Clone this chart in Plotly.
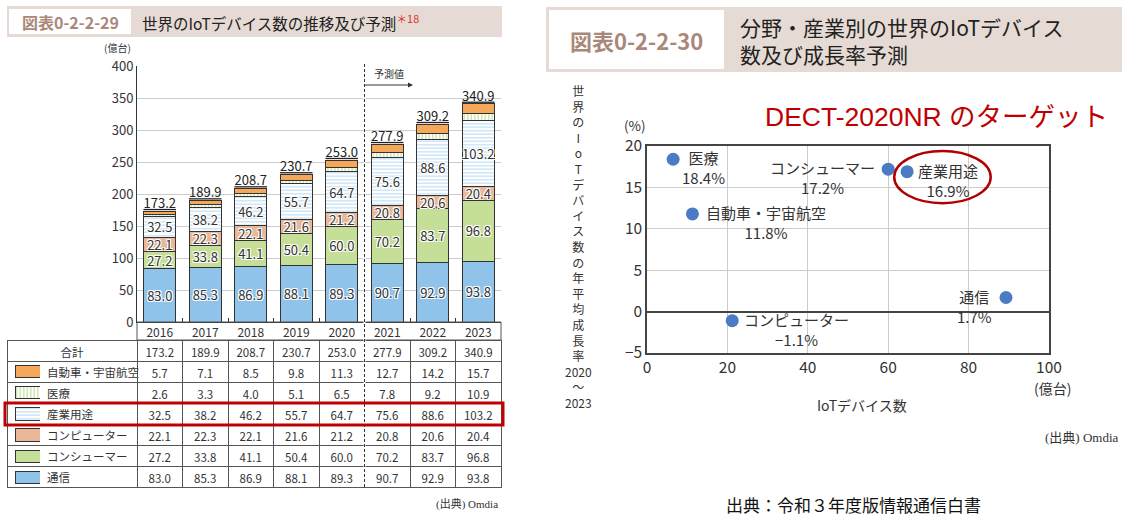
import plotly.graph_objects as go

# ---------------- data ----------------
years = ["2016", "2017", "2018", "2019", "2020", "2021", "2022", "2023"]
totals = [173.2, 189.9, 208.7, 230.7, 253.0, 277.9, 309.2, 340.9]
tsushin = [83.0, 85.3, 86.9, 88.1, 89.3, 90.7, 92.9, 93.8]
consumer = [27.2, 33.8, 41.1, 50.4, 60.0, 70.2, 83.7, 96.8]
computer = [22.1, 22.3, 22.1, 21.6, 21.2, 20.8, 20.6, 20.4]
sangyo = [32.5, 38.2, 46.2, 55.7, 64.7, 75.6, 88.6, 103.2]
iryo = [2.6, 3.3, 4.0, 5.1, 6.5, 7.8, 9.2, 10.9]
jidosha = [5.7, 7.1, 8.5, 9.8, 11.3, 12.7, 14.2, 15.7]

table_labels = ["自動車・宇宙航空", "医療", "産業用途", "コンピューター", "コンシューマー", "通信"]

seg_names = ["医療", "コンシューマー", "産業用途", "自動車・宇宙航空", "通信", "コンピューター"]
seg_devices = [6.5, 60.0, 64.7, 11.3, 89.3, 21.2]
seg_cagr = [18.4, 17.2, 16.9, 11.8, 1.7, -1.1]
seg_label_dx = [30, -66, 41, 74, -31, 64]

yaxis_title_chars = ["世", "界", "の", "I", "o", "T", "デ", "バ", "イ", "ス", "数", "の",
                     "年", "平", "均", "成", "長", "率", "2020", "〜", "2023"]

W, H = 1125, 516
def px(x):
    return x / W
def py(y):
    return 1 - y / H

FONT = "Noto Sans CJK JP"
DARK = "#333333"
C_TSU = "#8fc3ea"
C_CON = "#c6df98"
C_COM = "#e8b899"
C_SAN = "#9ccaee"
C_IRY = "#a9cf72"
C_JID = "#f6a85a"
HALO = "1px 1px 0 white, -1px -1px 0 white, 1px -1px 0 white, -1px 1px 0 white"
CLEAR = "rgba(255,255,255,0)"

STYLE = {
    "通信": dict(color=C_TSU),
    "コンシューマー": dict(color=C_CON),
    "コンピューター": dict(color=C_COM),
    "産業用途": dict(color="white", pattern=dict(shape="-", fgcolor=C_SAN, size=3.5, solidity=0.45)),
    "医療": dict(color="white", pattern=dict(shape="|", fgcolor=C_IRY, size=3.5, solidity=0.5)),
    "自動車・宇宙航空": dict(color=C_JID),
}

xs = list(range(len(years)))
fig = go.Figure()

def fmt(v):
    return [f"{a:.1f}" for a in v]

# table (transparent cells so the swatches show through)
cols = [[f"{v:.1f}" for v in (jidosha[i], iryo[i], sangyo[i], computer[i], consumer[i], tsushin[i])]
        for i in range(len(years))]
fig.add_trace(go.Table(
    domain=dict(x=[px(7), px(501)], y=[py(488), py(340)]),
    columnwidth=[130] + [45.5] * len(years),
    header=dict(values=["合計"] + fmt(totals), height=21, align="center",
                line=dict(color="#555", width=1), fill=dict(color=CLEAR),
                font=dict(size=11.5, color=DARK, family=FONT)),
    cells=dict(values=[[""] * len(table_labels)] + cols, height=21,
               align=["left"] + ["center"] * len(years),
               line=dict(color="#555", width=1), fill=dict(color=CLEAR),
               font=dict(size=11.5, color=DARK, family=FONT)),
))

bar_specs = [
    ("通信", tsushin, True),
    ("コンシューマー", consumer, True),
    ("コンピューター", computer, True),
    ("産業用途", sangyo, True),
    ("医療", iryo, False),
    ("自動車・宇宙航空", jidosha, False),
]
for name, vals, show_text in bar_specs:
    mk = dict(STYLE[name])
    mk["line"] = dict(color=DARK, width=1)
    fig.add_trace(go.Bar(
        x=xs, y=vals, name=name, marker=mk, width=0.7,
        text=fmt(vals) if show_text else None,
        textposition="inside" if show_text else "none",
        insidetextanchor="middle", textangle=0, constraintext="none",
        textfont=dict(size=13, color=DARK, family=FONT, shadow=HALO),
        showlegend=False, hoverinfo="skip", xaxis="x", yaxis="y",
    ))

fig.add_trace(go.Scatter(
    x=xs, y=totals, mode="text", text=fmt(totals), textposition="top center",
    textfont=dict(size=13, color="#222", family=FONT, lineposition="under"),
    showlegend=False, cliponaxis=False, hoverinfo="skip", xaxis="x", yaxis="y",
))

# legend swatches in the table
for lab in table_labels:
    mk = dict(STYLE[lab])
    mk["line"] = dict(color=DARK, width=1)
    fig.add_trace(go.Bar(
        orientation="h", y=[lab], x=[1], width=0.58, marker=mk,
        showlegend=False, hoverinfo="skip", xaxis="x3", yaxis="y3",
    ))

# scatter
fig.add_trace(go.Scatter(
    x=seg_devices, y=seg_cagr, mode="markers",
    marker=dict(size=13, color="#4a7bc4"),
    showlegend=False, hoverinfo="skip", xaxis="x2", yaxis="y2", cliponaxis=False,
))

annotations = []
for n, xv, yv, dx in zip(seg_names, seg_devices, seg_cagr, seg_label_dx):
    pct = f"{yv:.1f}%".replace("-", "−")
    annotations.append(dict(
        x=xv, y=yv, xref="x2", yref="y2", text=f"{n}<br>{pct}", showarrow=False,
        xanchor="center", yanchor="top", xshift=dx, yshift=14, align="center",
        font=dict(size=15, color=DARK, family=FONT),
    ))

# table row labels next to the swatches
for lab in table_labels:
    annotations.append(dict(
        x=1, y=lab, xref="x3", yref="y3", text=lab, showarrow=False, xanchor="left",
        xshift=5, yanchor="middle", font=dict(size=11.5, color=DARK, family=FONT),
    ))

def ann(x, y, text, size, color=DARK, xanchor="center", yanchor="middle", family=FONT, align="left"):
    annotations.append(dict(x=px(x), y=py(y), xref="paper", yref="paper", text=text,
                            showarrow=False, xanchor=xanchor, yanchor=yanchor, align=align,
                            font=dict(size=size, color=color, family=family)))

ann(70, 22, "<b>図表0-2-2-29</b>", 16, color="#a9887a")
ann(140, 22, "世界のIoTデバイス数の推移及び予測<span style='color:#e0302a'><sup>＊18</sup></span>", 15.5,
    color="#222", xanchor="left")
ann(117, 48, "(億台)", 10)
ann(372, 73, "予測値", 10, xanchor="left")
annotations.append(dict(x=px(413), y=py(85), xref="paper", yref="paper", ax=-50, ay=0,
                        text="", showarrow=True, arrowhead=2, arrowsize=1, arrowwidth=1,
                        arrowcolor=DARK))
ann(500, 504, "(出典) Omdia", 11, xanchor="right", family="Liberation Serif, " + FONT)

ann(636, 40, "<b>図表0-2-2-30</b>", 22, color="#a9887a")
ann(738, 40, "分野・産業別の世界のIoTデバイス<br>数及び成長率予測", 21, color="#222", xanchor="left")
ann(936, 117, "DECT-2020NR のターゲット", 26.5, color="#c00000", family="Liberation Sans, " + FONT)
ann(635, 125, "(%)", 13.5)
ann(1052, 388, "(億台)", 14)
ann(862, 405, "IoTデバイス数", 14)
ann(578, 247, "<br>".join(yaxis_title_chars), 12, align="center")
ann(1121, 437, "(出典) Omdia", 13, xanchor="right", family="Liberation Serif, " + FONT)
ann(853, 504, "出典：令和３年度版情報通信白書", 17, color="#111")

shapes = [
    dict(type="rect", xref="paper", yref="paper", x0=px(7), x1=px(502), y0=py(37), y1=py(6),
         fillcolor="#e6dbd4", line=dict(width=0), layer="below"),
    dict(type="rect", xref="paper", yref="paper", x0=px(9), x1=px(131), y0=py(34), y1=py(9),
         fillcolor="white", line=dict(width=0), layer="below"),
    dict(type="rect", xref="paper", yref="paper", x0=px(546), x1=px(1122), y0=py(72), y1=py(7),
         fillcolor="#e6dbd4", line=dict(width=0), layer="below"),
    dict(type="rect", xref="paper", yref="paper", x0=px(549), x1=px(724), y0=py(69), y1=py(10),
         fillcolor="white", line=dict(width=0), layer="below"),
    dict(type="rect", xref="paper", yref="paper", x0=px(137), x1=px(501), y0=py(340), y1=py(322),
         line=dict(color="#555", width=1)),
    dict(type="line", xref="x", yref="paper", x0=4.5, x1=4.5, y0=py(487), y1=py(64),
         line=dict(color="white", width=2), layer="above"),
    dict(type="line", xref="x", yref="paper", x0=4.5, x1=4.5, y0=py(487), y1=py(64),
         line=dict(color=DARK, width=1, dash="3px,2px"), layer="above"),
    dict(type="rect", xref="paper", yref="paper", x0=px(5), x1=px(503), y0=py(425), y1=py(403),
         line=dict(color="#c00000", width=3)),
    dict(type="circle", xref="x2", yref="y2", x0=61.5, x1=85.5, y0=13.1, y1=19.4,
         line=dict(color="#b00000", width=2.5)),
]

fig.update_layout(
    width=W, height=H, margin=dict(l=0, r=0, t=0, b=0, autoexpand=False),
    paper_bgcolor="white", plot_bgcolor="white",
    barmode="stack", bargap=0.3,
    font=dict(family=FONT, color=DARK),
    annotations=annotations, shapes=shapes,
    xaxis=dict(domain=[px(137), px(501)], range=[-0.5, 7.5], tickmode="array", tickvals=xs,
               ticktext=years, showgrid=False, zeroline=False, showline=True, linecolor=DARK,
               linewidth=1, ticks="", tickfont=dict(size=12, color=DARK), automargin=False,
               minor=dict(tickmode="array", tickvals=[i + 0.5 for i in range(7)], ticks="inside",
                          ticklen=4, tickcolor=DARK, showgrid=False),
               anchor="y"),
    yaxis=dict(domain=[py(322), py(66)], range=[0, 400], dtick=50, showgrid=True,
               gridcolor="#cccccc", zeroline=False, showline=True, linecolor=DARK, linewidth=1,
               ticks="", tickfont=dict(size=13, color=DARK), anchor="x", automargin=False),
    xaxis2=dict(domain=[px(647), px(1049)], range=[0, 100], dtick=20, showgrid=True,
                gridcolor="#cccccc", zeroline=False, showline=True, mirror=True, linecolor="#444",
                linewidth=1.5, ticks="", tickfont=dict(size=15.5, color=DARK), anchor="y2",
                automargin=False),
    yaxis2=dict(domain=[py(353), py(146)], range=[-5, 20], dtick=5, showgrid=True,
                gridcolor="#cccccc", zeroline=True, zerolinecolor="#444", zerolinewidth=1.5,
                showline=True, mirror=True, linecolor="#444", linewidth=1.5, ticks="",
                tickfont=dict(size=15.5, color=DARK), anchor="x2", automargin=False,
                tickvals=[-5, 0, 5, 10, 15, 20], ticktext=["−5", "0", "5", "10", "15", "20"]),
    xaxis3=dict(domain=[px(15), px(40)], range=[0, 1], visible=False, anchor="y3", automargin=False),
    yaxis3=dict(domain=[py(488), py(361)], visible=False, autorange="reversed",
                type="category", categoryorder="array", categoryarray=table_labels,
                anchor="x3", automargin=False),
)

fig.write_html("out.html", config={"displayModeBar": False},
               post_script="document.body.style.margin='0px';")
